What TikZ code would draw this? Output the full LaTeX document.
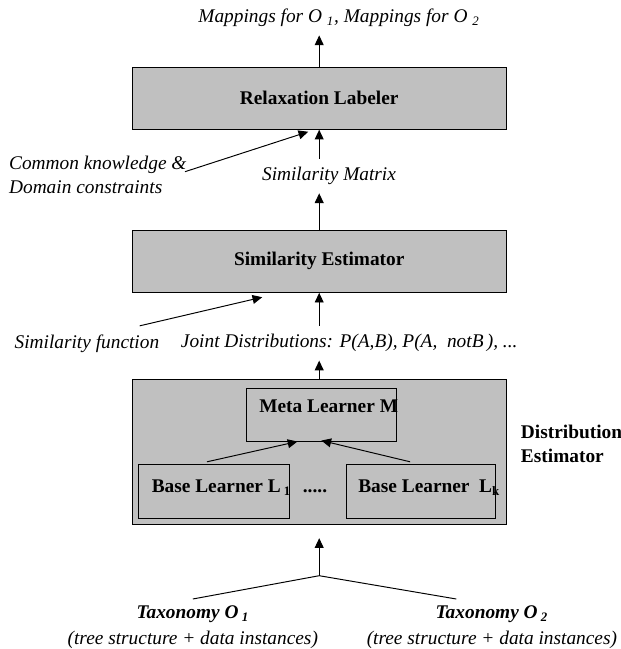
\documentclass[tikz,border=0pt]{standalone}
\usepackage{fontspec}
\setmainfont{Liberation Serif}
\usetikzlibrary{arrows.meta}
\usetikzlibrary{calc}
\definecolor{blockgray}{RGB}{192,192,192}
\tikzset{>={Triangle[length=6pt,width=5.5pt]}}
\tikzset{block/.style = {draw, fill=blockgray, line width=0.6pt, minimum width=231.9pt, font=\fontsize{12pt}{14.5pt}\selectfont\bfseries}}
\tikzset{learner/.style = {draw, line width=0.6pt}}
\tikzset{flowlabel/.style = {inner xsep=0pt, inner ysep=5pt, font=\fontsize{12pt}{14.5pt}\selectfont\itshape}}
\tikzset{boldlabel/.style = {inner sep=0pt, font=\fontsize{12pt}{14.5pt}\selectfont\bfseries}}

\begin{document}
\begin{tikzpicture}[x=0.62pt, y=-0.62pt, line width=0.6pt]
                \useasboundingbox (0,0) rectangle (620,649);

                \node[block, minimum height=38.4pt] (relax) at (319.2,98.3) {Relaxation Labeler};
                \node[block, minimum height=38.6pt] (simest) at (319.2,261.2) {Similarity Estimator};
                \node[block, minimum height=89.9pt] (dist) at (319.2,451.5) {};

                \node[learner, minimum width=93pt, minimum height=32.7pt] (meta) at (321.4,414.7) {};
                \node[learner, minimum width=94.2pt, minimum height=33.5pt] (base1) at (214,491.3) {};
                \node[learner, minimum width=92.4pt, minimum height=33.5pt] (basek) at (421.1,491.3) {};
                \node[boldlabel] (metaname) at (328.7,406.7) {Meta Learner M};
                \node[boldlabel] (base1name) at (221.5,488) {Base Learner L\,\textsubscript{1}};
                \node[boldlabel] (basekname) at (429.2,488) {Base Learner~~L\textsubscript{k}};
                \node[boldlabel] (dots) at (315,491) {.....};
                \node[boldlabel, align=left, anchor=west] (distname) at (520.5,444) {Distribution\\Estimator};

                \node[flowlabel] (mappings) at (339,18) {Mappings for O \textsubscript{1}, Mappings for O \textsubscript{2}};
                \node[flowlabel] (matrix) at (329,176) {Similarity Matrix};
                \node[flowlabel, inner ysep=0pt, align=left] (ck) at (97.8,174.7) {Common knowledge \&\\Domain constraints};
                \node[flowlabel] (joint) at (349.2,343.3) {Joint Distributions: P(A,B), P(A,~~notB\,), ...};
                \node[flowlabel] (simfun) at (86.9,343.3) {Similarity function};
                \node[flowlabel, align=center, anchor=north, inner ysep=4pt] (tax1) at (192.8,599) {\textbf{Taxonomy O\,\textsubscript{1}}\\[1.5pt](tree structure + data instances)};
                \node[flowlabel, align=center, anchor=north, inner ysep=4pt] (tax2) at (491.9,599) {\textbf{Taxonomy O\,\textsubscript{2}}\\[1.5pt](tree structure + data instances)};
                \coordinate (join) at (319.2,575.7);

                \draw[->] (relax.north) -- (relax.north |- mappings.south);
                \draw[->] (relax.south |- matrix.north) -- (relax.south);
                \draw[->] (simest.north) -- (simest.north |- matrix.south);
                \draw[->] ($(ck.east)+(-2,-3)$) -- ($(relax.south)+(-11,2)$);
                \draw[->] (simest.south |- joint.north) -- (simest.south);
                \draw[->] ($(simfun.north east)+(-20,0)$) -- ($(simest.south)+(-57,4.4)$);
                \draw[->] (dist.north) -- (dist.north |- joint.south);
                \draw[->] ($(base1.north)+(-7,-2)$) -- ($(meta.south)+(-24,0)$);
                \draw[->] ($(basek.north)+(-11,-2)$) -- ($(meta.south)+(0,-1)$);
                \draw[->, shorten >=8.5pt] (join) -- (dist.south);
                \draw (tax1.north) -- (join) -- ($(tax2.north)+(-35.6,0)$);
            \end{tikzpicture}
\end{document}
